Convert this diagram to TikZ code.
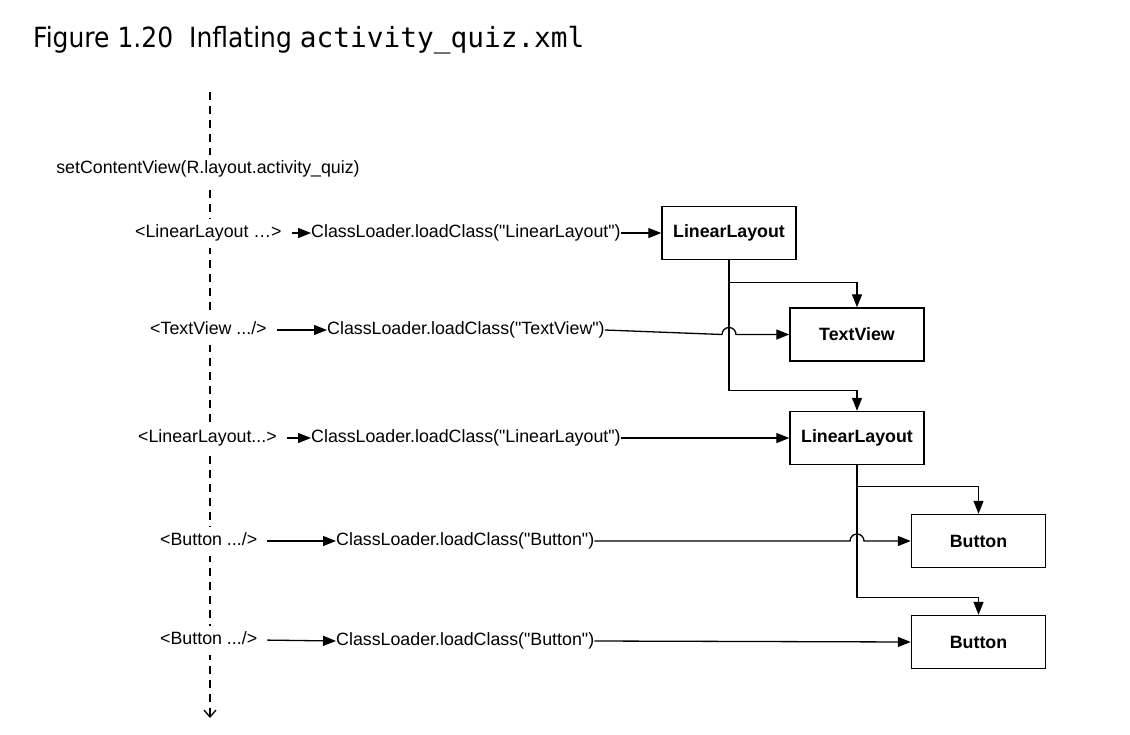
\documentclass[tikz,border=0pt]{standalone}
\usepackage{fontspec}
\setmainfont{Liberation Sans}
\newfontfamily\titlefont[FakeStretch=0.9]{DejaVu Sans}
\newfontfamily\titlemono{DejaVu Sans Mono}
\usetikzlibrary{calc,arrows.meta}
\newcommand\diagfont{\fontsize{17.8}{21}\selectfont}
\newcommand\q{\textquotedbl}
\tikzset{
  txt/.style={inner sep=0pt, anchor=west, text height=13pt, text depth=4pt, font=\diagfont},
  tag/.style={txt, fill=white, inner xsep=2pt, inner ysep=6pt},
  viewbox/.style={draw, line width=1.4pt, minimum width=134pt, minimum height=53pt, inner sep=0pt, font=\diagfont\bfseries},
  arr/.style={line width=1.3pt, -{Triangle[length=13pt,width=10pt]}},
  life/.style={line width=1.3pt, dash pattern=on 8pt off 6pt, -{Straight Barb[length=7pt,width=12pt]}}
}

\begin{document}
\begin{tikzpicture}[x=1pt, y=-1pt]
			%%%%% START %%%%%
			\useasboundingbox (0,0) rectangle (1130,734);
			
			\node[anchor=west, inner sep=0pt, font=\titlefont\fontsize{27.8}{32}\selectfont] (title) at (33,40) {Figure 1.20\ \ Inflating {\titlemono activity\_quiz.xml}};
			
			% lifeline
			\coordinate (top) at (210,92);
			\coordinate (bottom) at (210,718);
			\draw[life] (top) -- (bottom);
			
			\node[tag, anchor=center] (scv) at (208,169) {setContentView(R.layout.activity\_quiz)};
			
			\node[tag] (tag1) at (133,233) {<LinearLayout \ldots>};
			\node[tag] (tag2) at (148,330) {<TextView .../>};
			\node[tag] (tag3) at (136,438) {<LinearLayout...>};
			\node[tag] (tag4) at (158,541) {<Button .../>};
			\node[tag] (tag5) at (158,640) {<Button .../>};
			
			\node[txt] (load1) at (311,233) {ClassLoader.loadClass(\q LinearLayout\q)};
			\node[txt] (load2) at (327,330) {ClassLoader.loadClass(\q TextView\q)};
			\node[txt] (load3) at (311,438) {ClassLoader.loadClass(\q LinearLayout\q)};
			\node[txt] (load4) at (336,541) {ClassLoader.loadClass(\q Button\q)};
			\node[txt] (load5) at (336,641) {ClassLoader.loadClass(\q Button\q)};
			
			% views
			\node[viewbox] (layout1) at (729,233) {LinearLayout};
			\node[viewbox] (text) at (857,334.5) {TextView};
			\node[viewbox] (layout2) at (857,438) {LinearLayout};
			\node[viewbox] (button1) at (978.5,541) {Button};
			\node[viewbox] (button2) at (978.5,642) {Button};
			
			\foreach \i in {1,...,5}
				\draw[arr, shorten <=8pt] (tag\i.east) -- (load\i.west);
			
			\draw[arr] (load1.east) -- (layout1.west);
			\draw[arr] (load2.east) -- ($(layout1.south |- text.west)+(-7,0)$) arc (180:360:7) -- (text.west);
			\draw[arr] (load3.east) -- (layout2.west);
			\draw[arr] (load4.east) -- ($(layout2.south |- button1.west)+(-7,0)$) arc (180:360:7) -- (button1.west);
			\draw[arr] (load5.east) -- (button2.west);
			
			% children
			\draw[arr] (layout1.south) |- ($(text.north)+(0,-25)$) -- (text.north);
			\draw[arr] (layout1.south) |- ($(layout2.north)+(0,-20)$) -- (layout2.north);
			\draw[arr] (layout2.south) |- ($(button1.north)+(0,-27)$) -- (button1.north);
			\draw[arr] (layout2.south) |- ($(button2.north)+(0,-17)$) -- (button2.north);
			
			%%%%% END %%%%%
\end{tikzpicture}
\end{document}
